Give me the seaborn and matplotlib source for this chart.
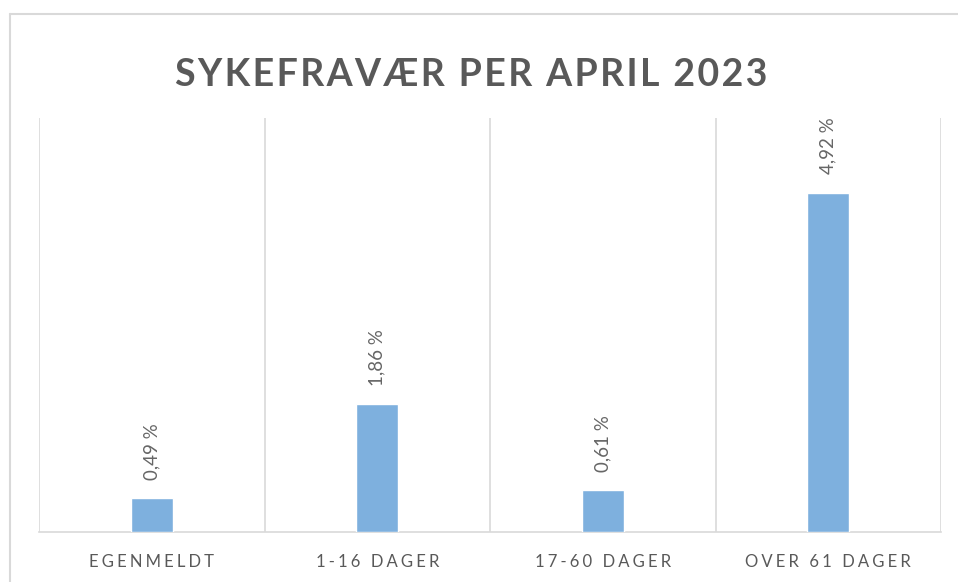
import matplotlib
matplotlib.use("Agg")
import matplotlib.pyplot as plt
import seaborn as sns
import pandas as pd
from matplotlib.lines import Line2D

categories = ["EGENMELDT", "1-16 DAGER", "17-60 DAGER", "OVER 61 DAGER"]
values = [0.49, 1.86, 0.61, 4.92]
title = "SYKEFRAVÆR PER APRIL 2023"

sns.set_theme(style="white")
plt.rcParams['font.family'] = ['Lato', 'DejaVu Sans']

def spaced(s, sep='\u200a'):
    return sep.join(list(s))

df = pd.DataFrame({"cat": categories, "val": values})

fig = plt.figure(figsize=(9.58, 5.82), dpi=100)
fig.patch.set_facecolor("white")
ax = fig.add_axes([39/958, 50/582, (941-39)/958, (532-118)/582])

sns.barplot(data=df, x="cat", y="val", color="#7eb0de", width=0.186,
            saturation=1, ax=ax, zorder=3)

ax.set_xlim(-0.5, 3.5)
ax.set_ylim(0, 6)
for xb in [-0.5, 0.5, 1.5, 2.5, 3.5]:
    ax.axvline(xb, color="#d9d9d9", lw=1.2, zorder=1)
for s in ["top", "right", "left"]:
    ax.spines[s].set_visible(False)
ax.spines["bottom"].set_color("#d9d9d9")
ax.spines["bottom"].set_linewidth(1.2)
ax.set_yticks([])
ax.set_xlabel("")
ax.set_ylabel("")
ax.set_xticks(range(len(categories)))
ax.set_xticklabels([spaced(c, '\u2009\u200a') for c in categories], fontsize=12, color="#595959")
ax.tick_params(axis="x", length=0, pad=16)

for i, v in enumerate(values):
    lab = f"{v:.2f}".replace(".", ",") + " %"
    ax.annotate(lab, (i, v), xytext=(0, 13), textcoords="offset points",
                rotation=90, ha="center", va="bottom", fontsize=13.5, color="#666666")

fig.text(471/958, 1 - 75/582, spaced(title, '\u200a'), ha="center", va="center",
         fontsize=27, fontweight="bold", color="#595959")

y0 = 1 - 14/582
x0 = 10/958
fig.add_artist(Line2D([x0, 1], [y0, y0], color="#d9d9d9", lw=1.5, transform=fig.transFigure))
fig.add_artist(Line2D([x0, x0], [0, y0], color="#d9d9d9", lw=1.5, transform=fig.transFigure))

fig.savefig("out.png", dpi=100, facecolor="white")
